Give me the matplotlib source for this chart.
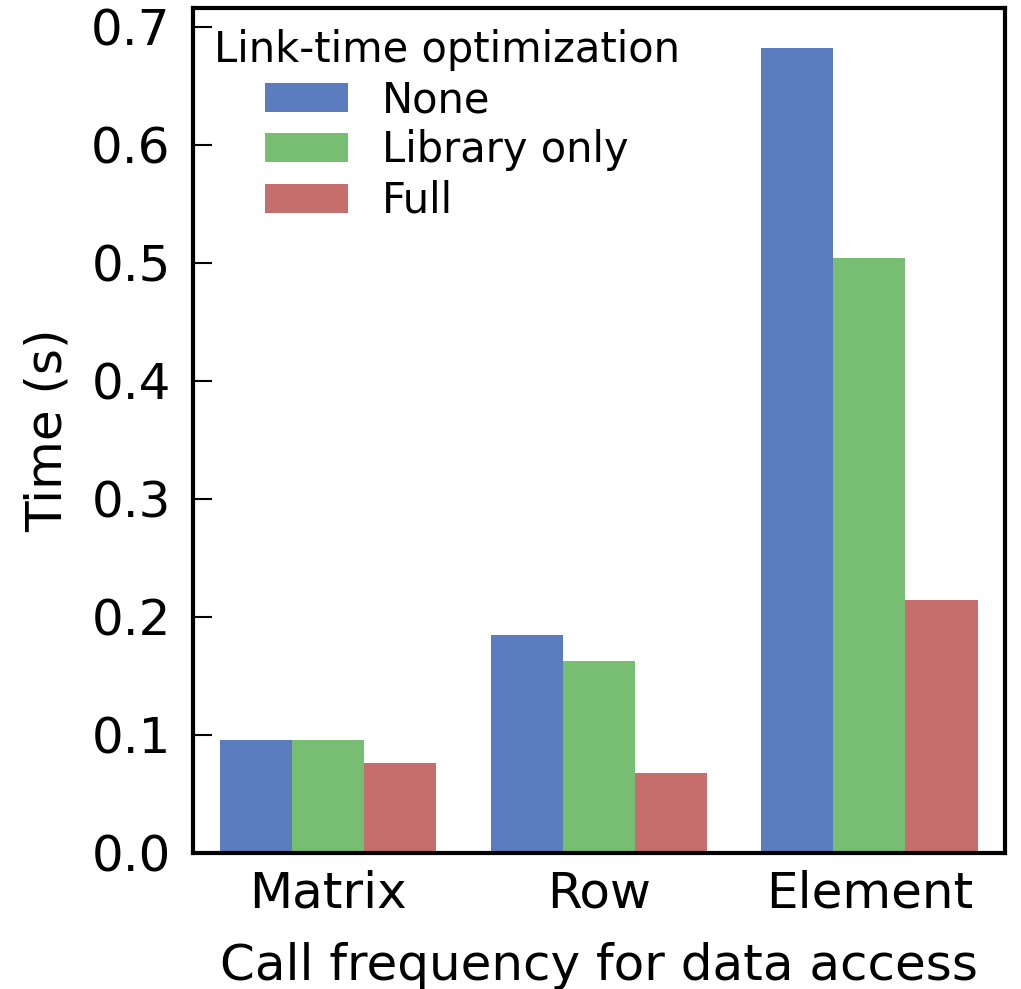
import numpy as np
import matplotlib
matplotlib.use("Agg")
from matplotlib import pyplot as plt

# values
groups = ["Matrix", "Row", "Element"]
series = ["None", "Library only", "Full"]
none_vals = [0.095, 0.184, 0.682]
lib_vals = [0.095, 0.162, 0.504]
full_vals = [0.076, 0.067, 0.214]
colors = ["#5b7dbf", "#77be72", "#c66e6e"]

fig = plt.figure(figsize=(10.21, 9.89), dpi=100)
ax = fig.add_axes([0.189, 0.138, 0.795, 0.854])

x = np.arange(len(groups))
w = 0.8 / 3
for i, (name, vals) in enumerate(zip(series, [none_vals, lib_vals, full_vals])):
    ax.bar(x + (i - 1) * w, vals, width=w, color=colors[i], label=name)

ax.set_xlim(-0.5, 2.5)
ax.set_ylim(0, 0.716)
ax.set_yticks([0.0, 0.1, 0.2, 0.3, 0.4, 0.5, 0.6, 0.7])
ax.set_xticks(x)
ax.set_xticklabels(groups)
ax.tick_params(axis="y", direction="in", length=14, width=1.5, labelsize=36, pad=16)
ax.tick_params(axis="x", length=0, labelsize=36, pad=12)
for s in ax.spines.values():
    s.set_linewidth(3)

ax.set_xlabel("Call frequency for data access", fontsize=36, labelpad=18)
ax.set_ylabel("Time (s)", fontsize=36, labelpad=14)

leg = ax.legend(title="Link-time optimization", loc="upper left", frameon=False,
                fontsize=30, title_fontsize=30, handlelength=2.0, handleheight=0.7,
                borderaxespad=0.25, borderpad=0.25, labelspacing=0.2, handletextpad=0.8)

fig.savefig("out.png", dpi=100)
